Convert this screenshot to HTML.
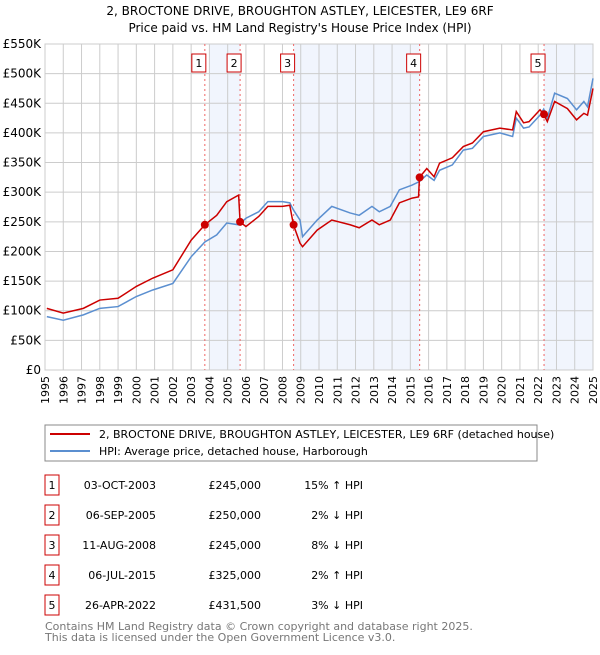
<!DOCTYPE html>
<html><head><meta charset="utf-8"><style>
body{margin:0;background:#fff;}
svg text{font-family:"DejaVu Sans","Liberation Sans",sans-serif;}
</style></head><body>
<svg id="c" width="600" height="650" xmlns="http://www.w3.org/2000/svg">
<text x="300" y="15" text-anchor="middle" font-size="12">2, BROCTONE DRIVE, BROUGHTON ASTLEY, LEICESTER, LE9 6RF</text>
<text x="300" y="32" text-anchor="middle" font-size="12">Price paid vs. HM Land Registry's House Price Index (HPI)</text>
<g id="plot"></g>
<g>
<rect x="45" y="425" width="492" height="36" fill="#fff" stroke="#888"/>
<line x1="50" y1="434" x2="90" y2="434" stroke="#cc0000" stroke-width="2"/>
<text x="99" y="438" font-size="11">2, BROCTONE DRIVE, BROUGHTON ASTLEY, LEICESTER, LE9 6RF (detached house)</text>
<line x1="50" y1="451" x2="90" y2="451" stroke="#5b8fd0" stroke-width="2"/>
<text x="99" y="455" font-size="11">HPI: Average price, detached house, Harborough</text>
</g>
<g id="table"></g>
<text x="45" y="630" font-size="11" fill="#777">Contains HM Land Registry data © Crown copyright and database right 2025.</text>
<text x="45" y="641" font-size="11" fill="#777">This data is licensed under the Open Government Licence v3.0.</text>
</svg>
<script>
const hpiYears=[1995.1,1996,1997.1,1998,1999,2000,2000.9,2002,2003,2003.75,2004.4,2004.95,2005.6,2006,2006.7,2007.2,2008,2008.4,2008.6,2008.96,2009.1,2009.9,2010.7,2011.7,2012.2,2012.9,2013.3,2013.9,2014.4,2015.1,2015.5,2015.9,2016.3,2016.6,2017.3,2017.9,2018.4,2019,2019.9,2020.6,2020.8,2021.2,2021.5,2022.1,2022.3,2022.5,2022.9,2023.6,2024.1,2024.5,2024.7,2025];
const hpiValues=[90,84,93,104,107,124,135,146,191,216,228,248,245,256,267,284,284,282,270,253,225,253,276,265,261,276,267,276,304,312,318,329,320,337,346,371,374,394,400,394,425,408,410,430,440,425,467,458,439,453,444,492];
const propYears=[1995.1,1996,1997.1,1998,1999,2000,2000.9,2002,2003,2003.75,2004.4,2004.95,2005.6,2005.68,2006,2006.7,2007.2,2008,2008.4,2008.6,2008.96,2009.1,2009.9,2010.7,2011.7,2012.2,2012.9,2013.3,2013.9,2014.4,2015.1,2015.45,2015.5,2015.9,2016.3,2016.6,2017.3,2017.9,2018.4,2019,2019.9,2020.6,2020.8,2021.2,2021.5,2022.1,2022.3,2022.5,2022.9,2023.6,2024.1,2024.5,2024.7,2025];
const propValues=[104,96,104,118,121,141,155,169,219,245,261,284,295,250,242,259,276,276,278,245,214,208,236,253,245,240,253,245,253,282,290,292,325,340,326,349,358,377,383,402,408,405,436,417,419,439,431.5,419,453,441,422,433,430,475];
const saleLabels=["1","2","3","4","5"];
const saleYears=[2003.75,2005.68,2008.61,2015.51,2022.32];
const salePrices=[245,250,245,325,431.5];
const saleDates=["03-OCT-2003","06-SEP-2005","11-AUG-2008","06-JUL-2015","26-APR-2022"];
const salePriceText=["£245,000","£250,000","£245,000","£325,000","£431,500"];
const saleHpiText=["15% ↑ HPI","2% ↓ HPI","8% ↓ HPI","2% ↑ HPI","3% ↓ HPI"];
const yTicks=[0,50,100,150,200,250,300,350,400,450,500,550];
const yTickLabels=["£0","£50K","£100K","£150K","£200K","£250K","£300K","£350K","£400K","£450K","£500K","£550K"];
const xTicks=[1995,1996,1997,1998,1999,2000,2001,2002,2003,2004,2005,2006,2007,2008,2009,2010,2011,2012,2013,2014,2015,2016,2017,2018,2019,2020,2021,2022,2023,2024,2025];

const X0=45,X1=593,Y0=370,Y1=44;
const xs=y=>X0+(y-1995)/30*(X1-X0);
const ys=v=>Y0-v/550*(Y0-Y1);
const NS="http://www.w3.org/2000/svg";
const plot=document.getElementById('plot');
function mk(tag,attrs,parent){const e=document.createElementNS(NS,tag);for(const k in attrs)e.setAttribute(k,attrs[k]);(parent||plot).appendChild(e);return e;}
const shades=[[2004,saleYears[1]],[saleYears[2],saleYears[3]],[saleYears[4],2025]];
shades.forEach(s=>{const r=mk('rect',{x:xs(s[0]),y:Y1,width:xs(s[1])-xs(s[0]),height:Y0-Y1,fill:'#eef3fc',opacity:0.8});

});
yTicks.forEach((t,i)=>{const l=mk('line',{x1:X0,x2:X1,y1:ys(t),y2:ys(t),stroke:'#ccc','stroke-width':1});


const tx=mk('text',{x:X0-4,y:ys(t)+4,'text-anchor':'end','font-size':12});tx.textContent=yTickLabels[i];

});
xTicks.forEach(t=>{const l=mk('line',{x1:xs(t),x2:xs(t),y1:Y1,y2:Y0,stroke:'#ccc','stroke-width':1});


const x=xs(t)+4,y=Y0+6;
const tx=mk('text',{x:x,y:y,'text-anchor':'end','font-size':11,transform:'rotate(-90 '+x+' '+y+')'});tx.textContent=t;

});
const fr=mk('rect',{x:X0,y:Y1,width:X1-X0,height:Y0-Y1,fill:'none',stroke:'#ccc'});


saleYears.forEach((y,i)=>{const l=mk('line',{x1:xs(y),x2:xs(y),y1:Y1,y2:Y0,stroke:'#e66','stroke-width':1,'stroke-dasharray':'2,3'});


const b=mk('rect',{x:xs(y)-13,y:54,width:14,height:18,fill:'#fff',stroke:'#cc0000'});


const t=mk('text',{x:xs(y)-6,y:67,'text-anchor':'middle','font-size':11});t.textContent=saleLabels[i];

});
const hp=mk('polyline',{points:hpiYears.map((y,i)=>xs(y)+','+ys(hpiValues[i])).join(' '),fill:'none',stroke:'#5b8fd0','stroke-width':1.5});


const pp=mk('polyline',{points:propYears.map((y,i)=>xs(y)+','+ys(propValues[i])).join(' '),fill:'none',stroke:'#cc0000','stroke-width':1.5});


saleYears.forEach((y,i)=>{const c=mk('circle',{cx:xs(y),cy:ys(salePrices[i]),r:4,fill:'#cc0000'});

});
const tb=document.getElementById('table');
saleLabels.forEach((s,i)=>{const y=485+i*30;
const b=mk('rect',{x:45,y:y-10,width:14,height:20,fill:'#fff',stroke:'#cc0000'},tb);


const t0=mk('text',{x:52,y:y+4,'text-anchor':'middle','font-size':11},tb);t0.textContent=s;


const t1=mk('text',{x:156,y:y+4,'text-anchor':'end','font-size':11},tb);t1.textContent=saleDates[i];


const t2=mk('text',{x:261,y:y+4,'text-anchor':'end','font-size':11},tb);t2.textContent=salePriceText[i];


const t3=mk('text',{x:363,y:y+4,'text-anchor':'end','font-size':11},tb);t3.textContent=saleHpiText[i];

});
</script>
</body></html>
